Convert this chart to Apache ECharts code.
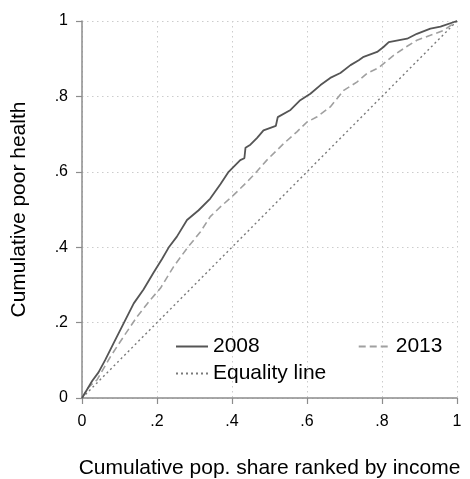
<!DOCTYPE html>
<html>
<head>
<meta charset="utf-8">
<script src="https://cdn.jsdelivr.net/npm/echarts@6/dist/echarts.min.js"></script>
<style>
  html, body { margin: 0; padding: 0; background: #fff; }
  #chart { width: 470px; height: 479px; }
</style>
</head>
<body>
<div id="chart"></div>
<script>
// Concentration curves of poor health against income rank
const share2008 = [0, 0.012, 0.027, 0.044, 0.062, 0.084, 0.111, 0.138, 0.164, 0.191, 0.213, 0.231, 0.253, 0.28, 0.311, 0.342, 0.369, 0.391, 0.422, 0.433, 0.436, 0.449, 0.467, 0.484, 0.517, 0.522, 0.556, 0.582, 0.609, 0.636, 0.662, 0.689, 0.716, 0.738, 0.751, 0.787, 0.804, 0.818, 0.867, 0.893, 0.929, 0.956, 1];
const health2008 = [0, 0.02, 0.045, 0.068, 0.101, 0.145, 0.198, 0.251, 0.288, 0.333, 0.368, 0.399, 0.428, 0.472, 0.498, 0.529, 0.567, 0.6, 0.631, 0.636, 0.664, 0.672, 0.69, 0.71, 0.722, 0.745, 0.764, 0.79, 0.807, 0.83, 0.849, 0.862, 0.883, 0.896, 0.905, 0.918, 0.931, 0.944, 0.953, 0.966, 0.98, 0.985, 1];

const share2013 = [0, 0.017, 0.04, 0.076, 0.111, 0.147, 0.182, 0.209, 0.244, 0.28, 0.316, 0.342, 0.369, 0.404, 0.44, 0.462, 0.493, 0.538, 0.573, 0.6, 0.627, 0.662, 0.698, 0.733, 0.76, 0.791, 0.831, 0.867, 0.893, 0.929, 0.964, 1];
const health2013 = [0, 0.028, 0.048, 0.11, 0.163, 0.216, 0.26, 0.291, 0.348, 0.397, 0.441, 0.481, 0.507, 0.538, 0.573, 0.596, 0.631, 0.675, 0.706, 0.732, 0.746, 0.772, 0.816, 0.838, 0.861, 0.876, 0.909, 0.933, 0.949, 0.962, 0.975, 1];

const equalityShare = [0, 1];
const equalityHealth = [0, 1];

const tickValues = [0, 0.2, 0.4, 0.6, 0.8, 1];
const tickLabels = ['0', '.2', '.4', '.6', '.8', '1'];

const seriesNames = ['2008', '2013', 'Equality line'];

function pairs(xs, ys) { return xs.map((x, i) => [x, ys[i]]); }
function tickText(v) {
  const i = tickValues.findIndex(t => Math.abs(t - v) < 1e-9);
  return i >= 0 ? tickLabels[i] : '';
}

const FONT = '"Liberation Sans", Arial, sans-serif';

const axisCommon = {
  type: 'value', min: 0, max: 1, interval: 0.2,
  nameLocation: 'middle',
  nameTextStyle: { fontFamily: FONT, fontSize: 21, color: '#000' },
  axisLine: { show: true, lineStyle: { color: '#8c8c8c', width: 1.5 } },
  axisTick: { show: true, length: 6, lineStyle: { color: '#8c8c8c', width: 1.2 } },
  axisLabel: { fontFamily: FONT, fontSize: 16, color: '#000', formatter: tickText },
  splitLine: { show: true, lineStyle: { color: '#cccccc', width: 1, type: [1.5, 3.5] } }
};

const legendCommon = {
  padding: 0, itemWidth: 32, itemHeight: 14,
  textStyle: { fontFamily: FONT, fontSize: 21, color: '#000' },
  itemStyle: { opacity: 0 },
  selectedMode: false
};

const chart = echarts.init(document.getElementById('chart'), null, { renderer: 'canvas' });
chart.setOption({
  backgroundColor: '#fff',
  animation: false,
  grid: { left: 82, right: 13, top: 21, bottom: 81, containLabel: false, outerBoundsMode: 'none' },
  xAxis: Object.assign({}, axisCommon, {
    name: 'Cumulative pop. share ranked by income',
    nameGap: 60,
    axisLabel: Object.assign({}, axisCommon.axisLabel, { margin: 16 })
  }),
  yAxis: Object.assign({}, axisCommon, {
    name: 'Cumulative poor health',
    nameGap: 52,
    axisLabel: Object.assign({}, axisCommon.axisLabel, { margin: 14 })
  }),
  legend: [
    Object.assign({}, legendCommon, {
      data: [seriesNames[0], seriesNames[1]],
      left: 175, top: 336, itemGap: 98
    }),
    Object.assign({}, legendCommon, {
      data: [seriesNames[2]],
      left: 175, top: 363
    })
  ],
  series: [
    {
      name: seriesNames[0], type: 'line', data: pairs(share2008, health2008),
      symbol: 'none', z: 4,
      lineStyle: { color: '#555555', width: 1.8, type: 'solid' },
      itemStyle: { color: '#555555' }
    },
    {
      name: seriesNames[1], type: 'line', data: pairs(share2013, health2013),
      symbol: 'none', z: 3,
      lineStyle: { color: '#a0a0a0', width: 1.6, type: [7, 4] },
      itemStyle: { color: '#a0a0a0' }
    },
    {
      name: seriesNames[2], type: 'line', data: pairs(equalityShare, equalityHealth),
      symbol: 'none', z: 2,
      lineStyle: { color: '#7a7a7a', width: 1.4, type: [2, 3] },
      itemStyle: { color: '#7a7a7a' }
    }
  ]
});
</script>
</body>
</html>
